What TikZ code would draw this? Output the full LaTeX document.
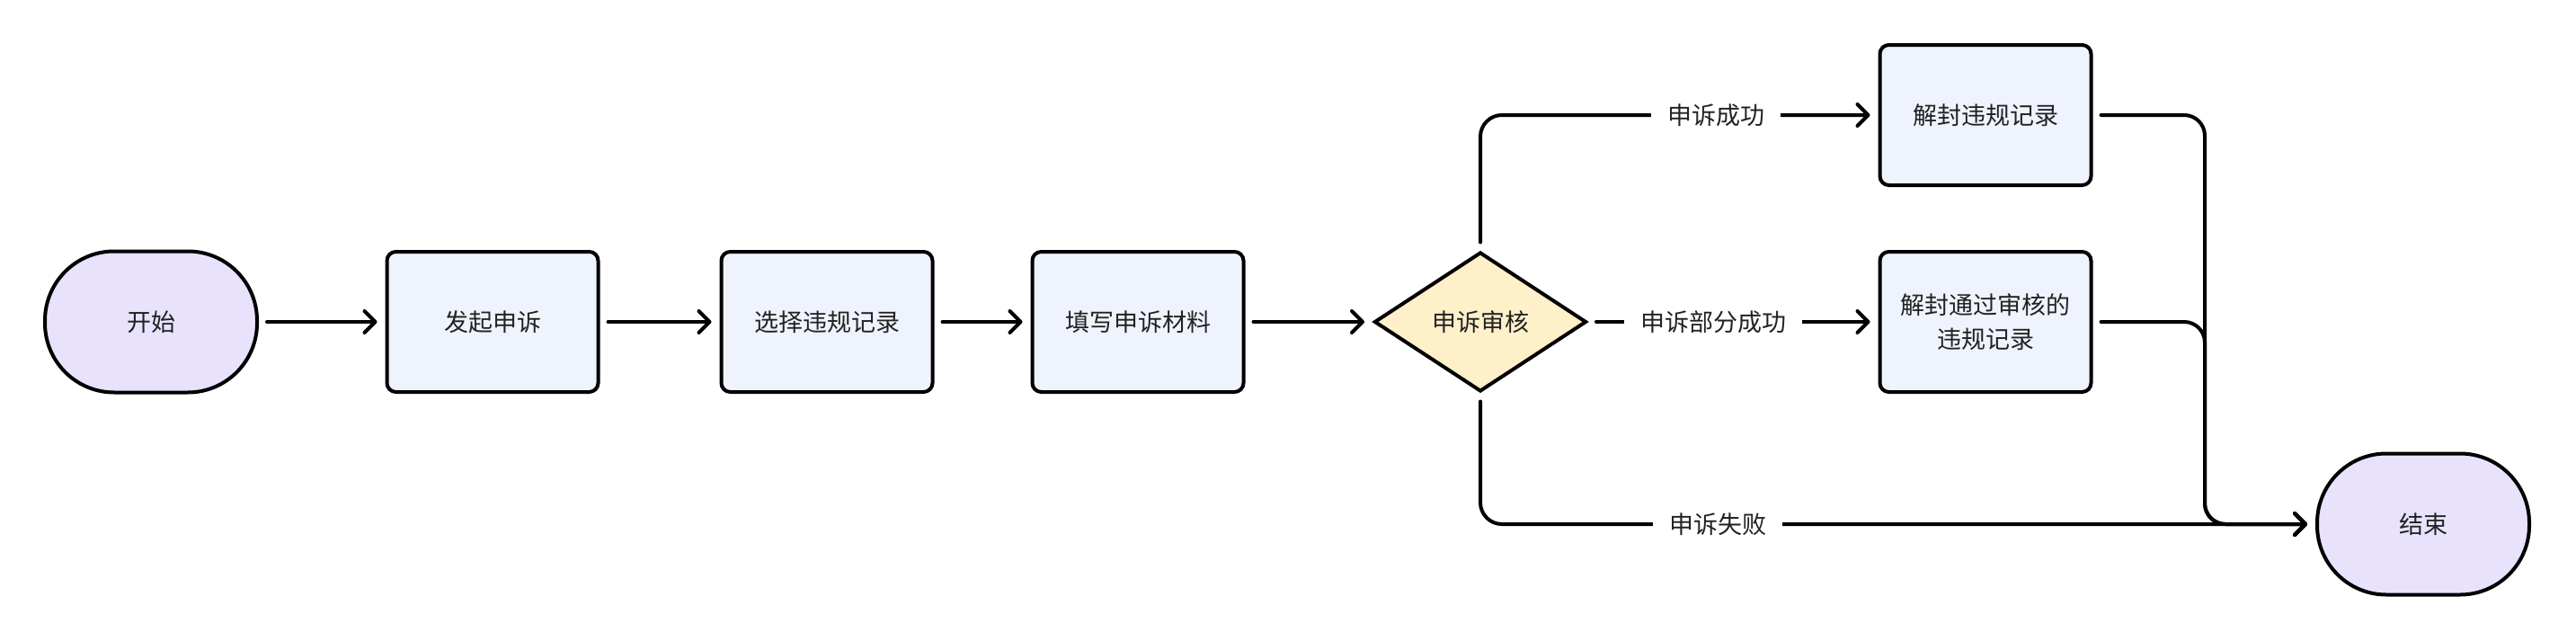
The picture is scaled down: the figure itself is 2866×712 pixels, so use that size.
\documentclass[tikz,border=0pt]{standalone}
\usepackage{fontspec}
\setmainfont{Noto Sans CJK SC}
\usetikzlibrary{arrows.meta,shapes.geometric}
\definecolor{termfill}{HTML}{E8E2FD}
\definecolor{procfill}{HTML}{EFF3FD}
\definecolor{decfill}{HTML}{FEF0C9}
\definecolor{txt}{HTML}{222222}
\begin{document}
\begin{tikzpicture}[x=1pt,y=-1pt,
  every node/.style={font=\fontsize{27pt}{38pt}\selectfont, text=txt},
  term/.style={draw=black, line width=4pt, fill=termfill, rounded corners=77pt,
    minimum width=236pt, minimum height=157pt, inner sep=0pt},
  proc/.style={draw=black, line width=4pt, fill=procfill, rounded corners=10pt,
    minimum width=235pt, minimum height=156pt, inner sep=0pt, align=center},
  dec/.style={draw=black, line width=4pt, fill=decfill, diamond,
    minimum width=236pt, minimum height=155pt, inner sep=0pt},
  conn/.style={draw=black, line width=4pt, line cap=round,
    -{Straight Barb[length=12pt,width=24pt,line cap=round,line join=round]},
    shorten <=9pt, shorten >=9pt},
  lbl/.style={fill=white, inner xsep=18pt, inner ysep=2pt}
]
\useasboundingbox[fill=white] (0,0) rectangle (2866,712);

\node[term] (start) at (168,358) {开始};
\node[proc] (b1) at (548,358) {发起申诉};
\node[proc] (b2) at (920,358) {选择违规记录};
\node[proc] (b3) at (1266,358) {填写申诉材料};
\node[dec]  (d)  at (1647,358) {申诉审核};
\node[proc] (ok1) at (2209,128) {解封违规记录};
\node[proc] (ok2) at (2209,358) {解封通过审核的\\违规记录};
\node[term] (end) at (2696,583) {结束};

\coordinate (mx) at (2453,583);

\draw[conn] (start) -- (b1);
\draw[conn] (b1) -- (b2);
\draw[conn] (b2) -- (b3);
\draw[conn] (b3) -- (d);

\draw[conn, rounded corners=24pt] (d.north) |- (ok1.west);
\draw[conn] (d.east) -- (ok2.west);
\draw[conn, rounded corners=24pt] (d.south) |- (end.west);

\draw[conn, rounded corners=23pt] (ok1.east) -| (mx) -- (end.west);
\draw[conn, rounded corners=23pt] (ok2.east) -| (mx) -- (end.west);

\node[lbl] (l1) at (1909,128) {申诉成功};
\node[lbl] (l2) at (1906,358) {申诉部分成功};
\node[lbl] (l3) at (1911,583) {申诉失败};
\end{tikzpicture}
\end{document}
